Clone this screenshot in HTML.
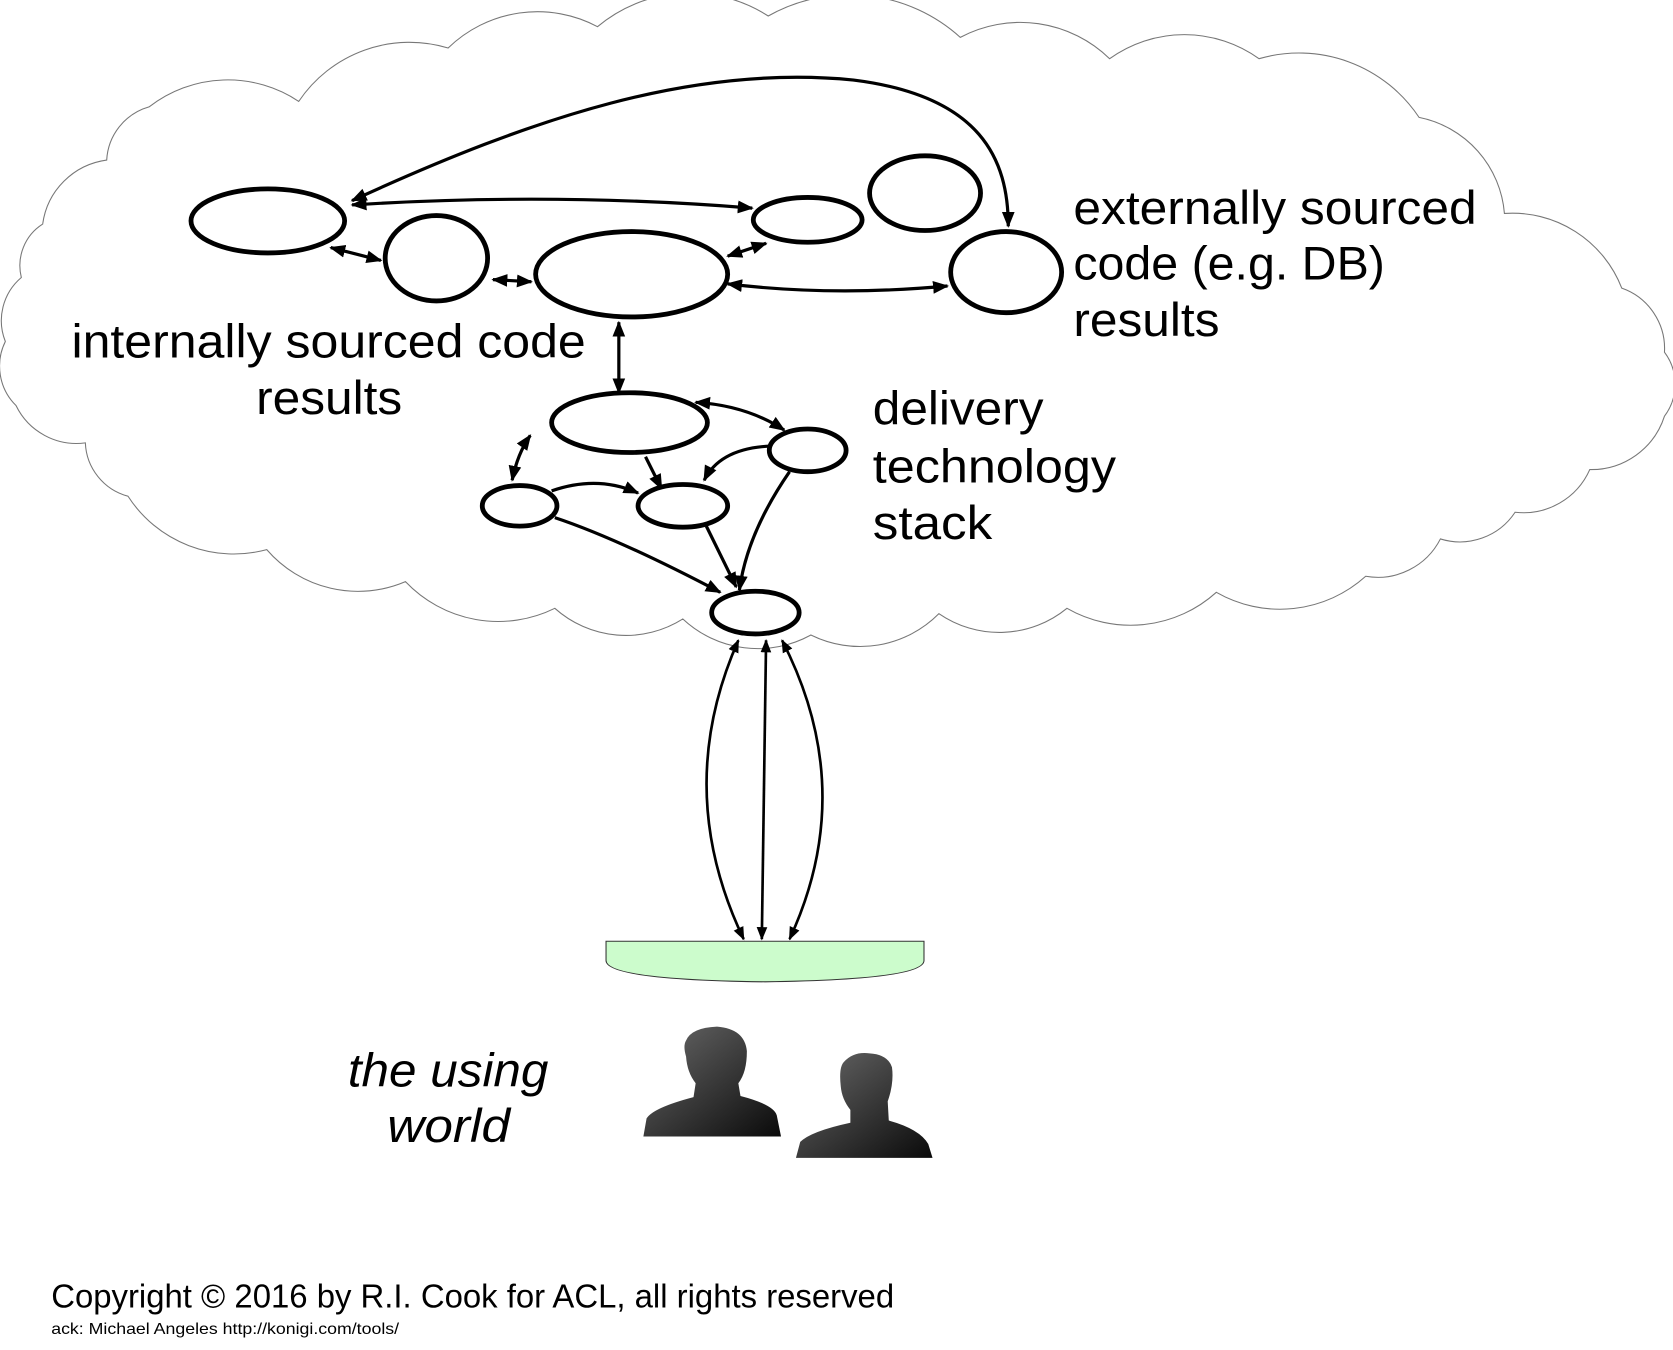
<!DOCTYPE html>
<html><head><meta charset="utf-8"><style>html,body{margin:0;padding:0;background:#fff}svg{display:block}</style></head>
<body>
<svg width="1673" height="1350" viewBox="0 0 1568 1265" preserveAspectRatio="none" xmlns="http://www.w3.org/2000/svg">
<defs>
<marker id="ar" viewBox="0 0 10 10" refX="9" refY="5" markerWidth="5" markerHeight="5" orient="auto-start-reverse" markerUnits="strokeWidth"><path d="M0,1 L10,5 L0,9 Z" fill="#000"/></marker>
<linearGradient id="pg" x1="0" y1="0" x2="1" y2="1"><stop offset="0" stop-color="#6a6a6a"/><stop offset="1" stop-color="#0a0a0a"/></linearGradient>
</defs>
<path fill="#fff" stroke="#777" stroke-width="1" d="M40,210 A70,70 0 0 1 100,150 A55,55 0 0 1 140,100 A120,120 0 0 1 280,95 A125,125 0 0 1 420,45 A120,120 0 0 1 560,25 A135,135 0 0 1 720,15 A155,155 0 0 1 900,35 A120,120 0 0 1 1040,55 A120,120 0 0 1 1180,55 A135,135 0 0 1 1330,110 A100,100 0 0 1 1410,200 A110,110 0 0 1 1520,270 A60,60 0 0 1 1560,330 A50,50 0 0 1 1560,390 A72,72 0 0 1 1490,440 A68,68 0 0 1 1420,480 A62,62 0 0 1 1350,505 A66,66 0 0 1 1280,540 A120,120 0 0 1 1140,555 A120,120 0 0 1 1000,570 A100,100 0 0 1 880,575 A104,104 0 0 1 760,595 A103,103 0 0 1 640,580 A100,100 0 0 1 520,570 A120,120 0 0 1 380,545 A113,113 0 0 1 250,515 A118,118 0 0 1 120,465 A54,54 0 0 1 80,415 A63,63 0 0 1 15,380 A52,52 0 0 1 5,320 A53,53 0 0 1 20,260 A46,46 0 0 1 40,210 Z"/>
<g fill="none" stroke="#000" stroke-width="3">
<path d="M330,188 C500,110 650,60 800,75 C920,90 945,150 945,212" marker-start="url(#ar)" marker-end="url(#ar)"/>
<path d="M330,192 Q520,180 705,195" marker-start="url(#ar)" marker-end="url(#ar)"/>
<path d="M310,232 L357,244" marker-start="url(#ar)" marker-end="url(#ar)"/>
<path d="M462,262 L498,264" marker-start="url(#ar)" marker-end="url(#ar)"/>
<path d="M682,240 L718,228" marker-start="url(#ar)" marker-end="url(#ar)"/>
<path d="M682,266 Q780,278 888,268" marker-start="url(#ar)" marker-end="url(#ar)"/>
<path d="M580,302 L580,368" marker-start="url(#ar)" marker-end="url(#ar)"/>
<path d="M652,377 Q700,380 735,403" marker-start="url(#ar)" marker-end="url(#ar)"/>
<path d="M497,408 Q485,425 480,450" marker-start="url(#ar)" marker-end="url(#ar)"/>
<path d="M605,428 L620,458" marker-end="url(#ar)"/>
<path d="M722,418 Q675,420 660,450" marker-end="url(#ar)"/>
<path d="M517,460 Q560,445 598,462" marker-end="url(#ar)"/>
<path d="M520,485 Q580,505 675,555" marker-end="url(#ar)"/>
<path d="M662,493 L690,550" marker-end="url(#ar)"/>
<path d="M740,442 Q700,500 693,553" marker-end="url(#ar)"/>
</g>
<g fill="none" stroke="#000" stroke-width="2.5">
<path d="M692,600 Q630,740 697,880" marker-start="url(#ar)" marker-end="url(#ar)"/>
<path d="M718,600 L714,880" marker-start="url(#ar)" marker-end="url(#ar)"/>
<path d="M733,600 Q805,740 740,880" marker-start="url(#ar)" marker-end="url(#ar)"/>
</g>
<g fill="#fff" stroke="#000" stroke-width="4.5">
<ellipse cx="251" cy="207" rx="72" ry="30"/>
<ellipse cx="409" cy="242" rx="48" ry="40"/>
<ellipse cx="592" cy="257" rx="90" ry="40"/>
<ellipse cx="757" cy="206" rx="51" ry="21"/>
<ellipse cx="867" cy="181" rx="52" ry="35"/>
<ellipse cx="943" cy="255" rx="52" ry="38"/>
<ellipse cx="590" cy="396" rx="73" ry="28"/>
<ellipse cx="757" cy="422" rx="36" ry="20"/>
<ellipse cx="487" cy="474" rx="35" ry="19"/>
<ellipse cx="640" cy="474" rx="42" ry="20"/>
<ellipse cx="708" cy="574" rx="41" ry="20"/>
</g>
<path d="M568,882 L866,882 L866,900 Q866,918 717,920 Q568,918 568,900 Z" fill="#ccfccc" stroke="#333" stroke-width="1"/>
<path fill="url(#pg)" d="M603,1065 L606,1048 Q612,1038 650,1028 L652,1015 Q644,1005 643,990 Q640,980 643,975 Q648,963 672,962 Q698,964 700,985 Q700,1005 692,1015 L694,1027 Q725,1035 728,1045 L732,1065 Z"/>
<path fill="url(#pg)" d="M746,1085 L750,1070 Q760,1060 797,1052 L797,1040 Q789,1030 788,1018 Q786,1000 791,995 Q800,985 815,987 Q832,988 836,1000 Q838,1015 832,1032 L833,1050 Q862,1058 870,1072 L874,1085 Z"/>
<g font-family="Liberation Sans, sans-serif" fill="#000" font-size="44" lengthAdjust="spacingAndGlyphs">
<text x="1006" y="210" textLength="378" lengthAdjust="spacingAndGlyphs">externally sourced</text>
<text x="1006" y="262" textLength="292" lengthAdjust="spacingAndGlyphs">code (e.g. DB)</text>
<text x="1006" y="315" textLength="137" lengthAdjust="spacingAndGlyphs">results</text>
<text x="67" y="335" textLength="482" lengthAdjust="spacingAndGlyphs">internally sourced code</text>
<text x="240" y="388" textLength="137" lengthAdjust="spacingAndGlyphs">results</text>
<text x="818" y="398" textLength="160" lengthAdjust="spacingAndGlyphs">delivery</text>
<text x="818" y="452" textLength="228" lengthAdjust="spacingAndGlyphs">technology</text>
<text x="818" y="505" textLength="112" lengthAdjust="spacingAndGlyphs">stack</text>
<text x="326" y="1018" font-style="italic" textLength="188" lengthAdjust="spacingAndGlyphs">the using</text>
<text x="363" y="1070" font-style="italic" textLength="115" lengthAdjust="spacingAndGlyphs">world</text>
<text x="48" y="1225" font-size="31" textLength="790" lengthAdjust="spacingAndGlyphs">Copyright © 2016 by R.I. Cook for ACL, all rights reserved</text>
<text x="48" y="1250" font-size="15" textLength="326" lengthAdjust="spacingAndGlyphs">ack: Michael Angeles http://konigi.com/tools/</text>
</g>
</svg>
</body></html>
